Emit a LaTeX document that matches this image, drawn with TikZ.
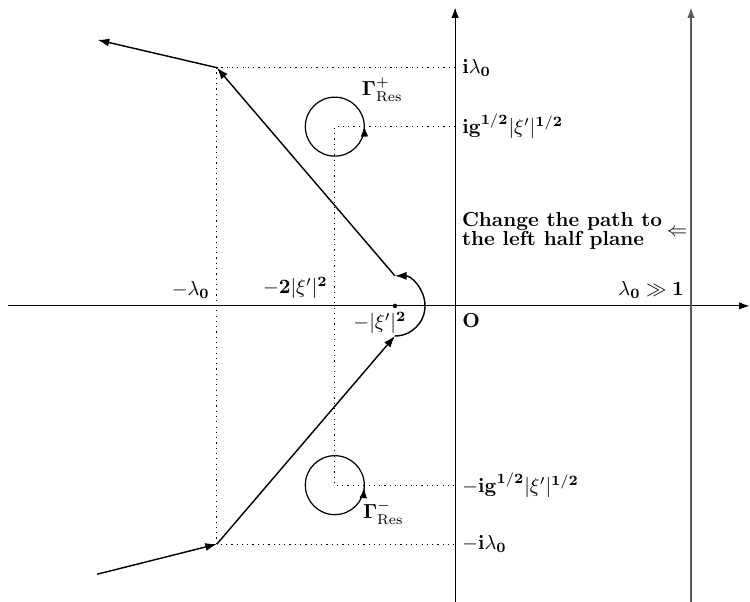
\documentclass[tikz,border=0pt]{standalone}
\usetikzlibrary{arrows.meta, calc}
\begin{document}
\begin{tikzpicture}[
        axis/.style={-{Latex[length=1.8mm, width=1.3mm]}, line width=0.55pt},
        contour/.style={-{Latex[length=2.0mm, width=1.4mm]}, line width=0.7pt},
        guide/.style={dotted, line width=0.6pt},
        loop/.style={line width=0.6pt}
    ]
        \useasboundingbox (-7.87,-5.12) rectangle (5.10,5.29);

        \coordinate (O) at (0,0);
        \coordinate (xl) at (-7.73,0);
        \coordinate (xr) at (5.09,0);
        \coordinate (yb) at (0,-5.12);
        \coordinate (yt) at (0,5.16);
        \coordinate (wb) at (4.08,-5.12);
        \coordinate (wt) at (4.08,5.16);
        \coordinate (ilam) at (0,4.12);
        \coordinate (milam) at (0,-4.12);
        \coordinate (ig) at (0,3.10);
        \coordinate (mig) at (0,-3.10);
        \coordinate (up) at (-4.12,4.12);
        \coordinate (dn) at (-4.12,-4.12);
        \coordinate (upend) at (-6.18,4.60);
        \coordinate (dnstart) at (-6.19,-4.64);
        \coordinate (pole) at (-1.04,0);
        \coordinate (pb) at (-1.04,-0.52);
        \coordinate (pt) at (-1.04,0.52);
        \coordinate (resp) at (-2.08,3.10);
        \coordinate (resm) at (-2.08,-3.10);

        \draw[guide] (ilam) -- (up) -- (dn) -- (milam);
        \draw[guide] (ig) -- (resp) -- (resm) -- (mig);

        \draw[axis] (xl) -- (xr);
        \draw[axis] (yb) -- (yt);
        \draw[axis, draw=black!65, line width=0.75pt] (wb) -- (wt);

        \draw[contour] (dnstart) -- (dn);
        \draw[contour] (dn) -- (pb);
        \draw[contour] (pb) arc[start angle=-90, end angle=90, radius=0.52];
        \draw[contour] (pt) -- (up);
        \draw[contour] (up) -- (upend);
        \fill (pole) circle (1.1pt);

        \draw[loop] (resp) circle (0.51);
        \draw[loop, -{Latex[length=1.8mm, width=1.3mm]}] ([shift={(-12:0.51)}]resp) arc[start angle=-12, end angle=1, radius=0.51];
        \draw[loop] (resm) circle (0.51);
        \draw[loop, -{Latex[length=1.8mm, width=1.3mm]}] ([shift={(-18:0.51)}]resm) arc[start angle=-18, end angle=-5, radius=0.51];

        \node[right] (lab1) at (ilam) {$\mathbf{i}\lambda_{\mathbf{0}}$};
        \node[right] (lab2) at (ig) {$\mathbf{ig}^{\mathbf{1/2}}|\xi'|^{\mathbf{1/2}}$};
        \node[right] (lab3) at (mig) {$-\mathbf{ig}^{\mathbf{1/2}}|\xi'|^{\mathbf{1/2}}$};
        \node[right] (lab4) at (milam) {$-\mathbf{i}\lambda_{\mathbf{0}}$};
        \node (gp) at (-1.26,3.74) {$\mathbf{\Gamma}^{+}_{\mathrm{Res}}$};
        \node (gm) at (-1.24,-3.58) {$\mathbf{\Gamma}^{-}_{\mathrm{Res}}$};
        \node[above left] (lab5) at (-4.12,0) {$-\lambda_{\mathbf{0}}$};
        \node[above left] (lab6) at (-2.08,0) {$-\mathbf{2}|\xi'|^{\mathbf{2}}$};
        \node (lab7) at (-1.30,-0.30) {$-|\xi'|^{\mathbf{2}}$};
        \node[below right] (lab8) at (O) {$\mathbf{O}$};
        \node[above left] (lab9) at (4.08,0) {$\lambda_{\mathbf{0}}\gg\mathbf{1}$};
        \node[align=left, font=\bfseries] (change) at (1.85,1.30) {Change the path to\\[-2.6pt]the left half plane};
        \node (larr) at (3.84,1.27) {$\Leftarrow$};
    \end{tikzpicture}
\end{document}
